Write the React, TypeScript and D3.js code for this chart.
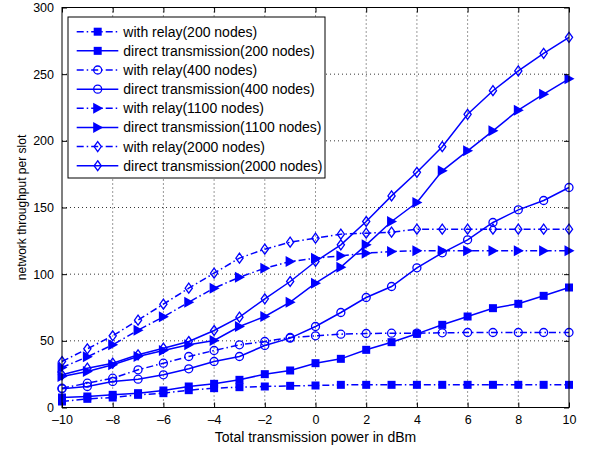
import React, { useEffect, useRef } from "react";
import * as d3 from "d3";

// power levels (dBm)
const powers = [-10, -9, -8, -7, -6, -5, -4, -3, -2, -1, 0, 1, 2, 3, 4, 5, 6, 7, 8, 9, 10];

const relay200 = [4.5, 6.5, 7.5, 9.5, 10.75, 13, 14.5, 15.25, 15.75, 16.25, 16.5, 17, 17, 17, 17, 17, 17, 17, 17, 17, 17];
const direct200 = [7.5, 8.25, 9.5, 10.75, 12.75, 15.75, 17.75, 20.75, 25, 27.75, 33.25, 36.5, 43.25, 49, 55.25, 62, 68.25, 74.5, 77.75, 83.75, 90];
const relay400 = [14.5, 18.25, 22, 28.25, 33.25, 38.25, 42.75, 47, 49.5, 52.5, 53.75, 55, 55.5, 55.75, 55.75, 56, 56.25, 56.25, 56.25, 56.25, 56.25];
const direct400 = [14, 15.75, 19.5, 21.25, 24.5, 29, 34.5, 38.25, 46.5, 52, 60.75, 71.25, 82.5, 90.75, 104.75, 116, 125.75, 138.75, 148.25, 155.25, 165];
const relay1100 = [30, 38, 47, 58, 68, 79, 89.5, 97.75, 104.5, 109.5, 112, 113.75, 115.75, 117, 117.5, 117.5, 117.5, 117.5, 117.5, 117.5, 117.5];
const direct1100 = [23.25, 27, 32, 38.25, 42.75, 47, 50.25, 60.75, 68.25, 79, 93.25, 105.25, 122, 139.5, 153.75, 177.5, 192.5, 207.5, 223, 235, 246.5];
const relay2000 = [34.5, 44, 53.75, 65.5, 77.5, 89.5, 100.75, 112, 118.75, 124, 127, 130, 130.75, 131.5, 133.75, 133.75, 133.75, 133.75, 133.75, 133.75, 133.75];
const direct2000 = [24.5, 29.5, 33.25, 39.5, 44.5, 49.5, 57.75, 67.75, 81.5, 94.5, 109.5, 122, 139.5, 158.7, 176.4, 195.6, 219.9, 237.6, 252.4, 265.6, 277.6];

const seriesNames = [
  "with relay(200 nodes)",
  "direct transmission(200 nodes)",
  "with relay(400 nodes)",
  "direct transmission(400 nodes)",
  "with relay(1100 nodes)",
  "direct transmission(1100 nodes)",
  "with relay(2000 nodes)",
  "direct transmission(2000 nodes)",
];
const seriesValues = [relay200, direct200, relay400, direct400, relay1100, direct1100, relay2000, direct2000];
const seriesMarkers = ["square", "square", "circle", "circle", "triangle", "triangle", "diamond", "diamond"];
const seriesDashed = [true, false, true, false, true, false, true, false];

const xTicks = [-10, -8, -6, -4, -2, 0, 2, 4, 6, 8, 10];
const yTicks = [0, 50, 100, 150, 200, 250, 300];

const blue = "#0000ff";
const font = "'Liberation Sans', Arial, Helvetica, sans-serif";

function drawMarker(g: any, kind: string, x: number, y: number) {
  if (kind === "square") {
    g.append("rect").attr("x", x - 4).attr("y", y - 4).attr("width", 8).attr("height", 8)
      .attr("fill", blue);
  } else if (kind === "circle") {
    g.append("circle").attr("cx", x).attr("cy", y).attr("r", 4)
      .attr("fill", "none").attr("stroke", blue).attr("stroke-width", 1.3);
  } else if (kind === "triangle") {
    g.append("path").attr("d", `M${x - 4.5},${y - 5.5}L${x + 5.5},${y}L${x - 4.5},${y + 5.5}Z`)
      .attr("fill", blue);
  } else {
    g.append("path").attr("d", `M${x},${y - 5}L${x + 3.6},${y}L${x},${y + 5}L${x - 3.6},${y}Z`)
      .attr("fill", "none").attr("stroke", blue).attr("stroke-width", 1.3);
  }
}

export default function App() {
  const ref = useRef<SVGSVGElement>(null);

  useEffect(() => {
    document.body.style.margin = "0";
    const svg = d3.select(ref.current);
    svg.selectAll("*").remove();

    const margin = { top: 7.5, right: 20, bottom: 41.5, left: 62 };
    const width = 589 - margin.left - margin.right;
    const height = 449 - margin.top - margin.bottom;

    const xScale = d3.scaleLinear().domain([-10, 10]).range([0, width]);
    const yScale = d3.scaleLinear().domain([0, 300]).range([height, 0]);

    svg.append("rect").attr("width", 589).attr("height", 449).attr("fill", "#fff");

    const g = svg.append("g").attr("transform", `translate(${margin.left},${margin.top})`);

    // dotted grid
    g.selectAll(".gx").data(xTicks.slice(1, -1)).enter().append("line")
      .attr("x1", d => xScale(d)).attr("x2", d => xScale(d))
      .attr("y1", 0).attr("y2", height)
      .attr("stroke", "#000").attr("stroke-width", 0.8).attr("stroke-dasharray", "1,3");
    g.selectAll(".gy").data(yTicks.slice(1, -1)).enter().append("line")
      .attr("x1", 0).attr("x2", width)
      .attr("y1", d => yScale(d)).attr("y2", d => yScale(d))
      .attr("stroke", "#000").attr("stroke-width", 0.8).attr("stroke-dasharray", "1,3");

    // series lines
    const line = d3.line<number>()
      .x((d, i) => xScale(powers[i]))
      .y(d => yScale(d));

    seriesValues.forEach((vals, k) => {
      g.append("path")
        .attr("d", line(vals))
        .attr("fill", "none")
        .attr("stroke", blue)
        .attr("stroke-width", 1.5)
        .attr("stroke-dasharray", seriesDashed[k] ? "7,3,1.5,3" : null);
      const mg = g.append("g");
      vals.forEach((v, i) => drawMarker(mg, seriesMarkers[k], xScale(powers[i]), yScale(v)));
    });

    // axes box with inward ticks
    g.append("rect").attr("width", width).attr("height", height)
      .attr("fill", "none").attr("stroke", "#000").attr("stroke-width", 1);

    const xAxis = g.append("g").attr("transform", `translate(0,${height})`)
      .call(d3.axisBottom(xScale).tickValues(xTicks).tickSizeInner(-5).tickSizeOuter(0).tickPadding(8)
        .tickFormat(d => String(d).replace("-", "\u2013")));
    const xTop = g.append("g")
      .call(d3.axisTop(xScale).tickValues(xTicks).tickSizeInner(-5).tickSizeOuter(0).tickFormat(() => ""));
    const yAxis = g.append("g")
      .call(d3.axisLeft(yScale).tickValues(yTicks).tickSizeInner(-5).tickSizeOuter(0).tickPadding(8));
    const yRight = g.append("g").attr("transform", `translate(${width},0)`)
      .call(d3.axisRight(yScale).tickValues(yTicks).tickSizeInner(-5).tickSizeOuter(0).tickFormat(() => ""));

    [xAxis, xTop, yAxis, yRight].forEach(a => {
      a.select(".domain").remove();
      a.selectAll("text").attr("font-family", font).attr("font-size", 12.5).attr("fill", "#000");
    });

    // axis titles
    svg.append("text")
      .attr("text-anchor", "middle")
      .attr("transform", `translate(${margin.left + width / 2},442)`)
      .attr("font-family", font).attr("font-size", 14)
      .text("Total transmission power in dBm");
    svg.append("text")
      .attr("text-anchor", "middle")
      .attr("transform", `translate(25.5,${margin.top + height / 2})rotate(-90)`)
      .attr("font-family", font).attr("font-size", 12)
      .text("network throughput per slot");

    // legend
    const lg = svg.append("g").attr("transform", "translate(68,17)");
    lg.append("rect").attr("width", 257).attr("height", 161)
      .attr("fill", "#fff").attr("stroke", "#000").attr("stroke-width", 1);
    seriesNames.forEach((name, k) => {
      const y = 14.7 + k * 19.15;
      lg.append("line").attr("x1", 8.7).attr("x2", 50.3).attr("y1", y).attr("y2", y)
        .attr("stroke", blue).attr("stroke-width", 1.5)
        .attr("stroke-dasharray", seriesDashed[k] ? "7,3,1.5,3" : null);
      drawMarker(lg, seriesMarkers[k], 29.7, y);
      lg.append("text").attr("x", 55.3).attr("y", y).attr("dy", "0.35em")
        .attr("font-family", font).attr("font-size", 14).text(name);
    });
  }, []);

  return <svg ref={ref} width={589} height={449} style={{ display: "block" }} />;
}
